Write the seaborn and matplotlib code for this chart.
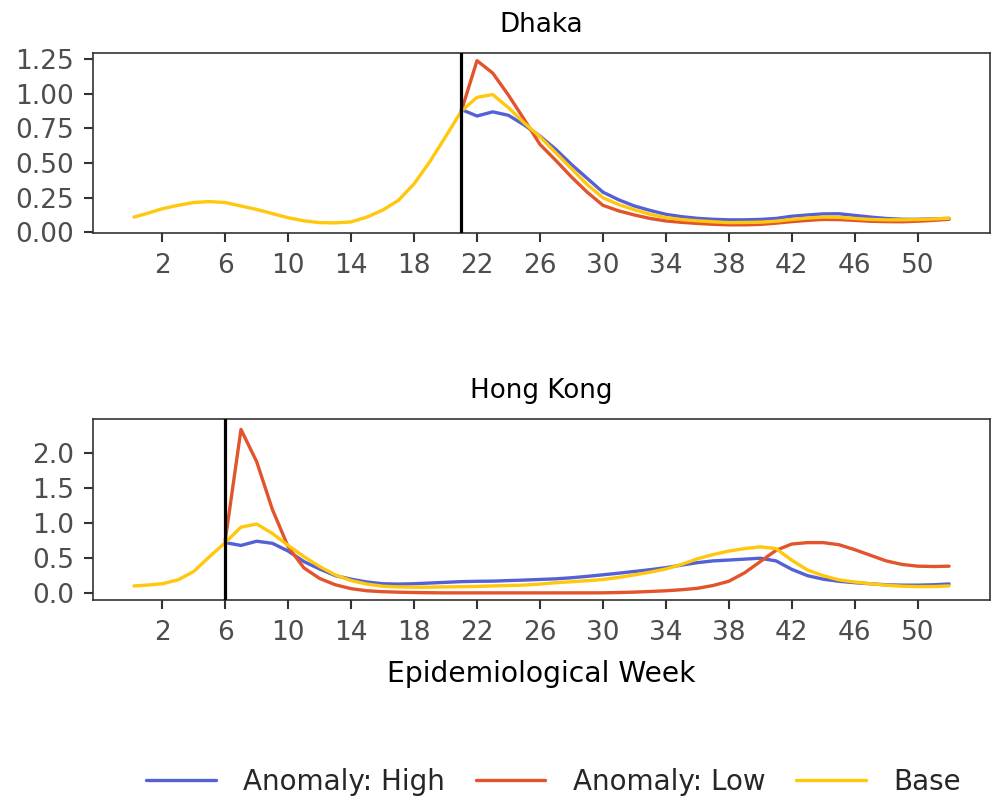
import numpy as np
import pandas as pd
import matplotlib
matplotlib.use('Agg')
import matplotlib.pyplot as plt
import seaborn as sns

# ─── DATA ─────────────────────────────────────────────────
base_weeks = [0.2] + list(range(1, 53))
dhaka_anom_weeks = list(range(21, 53))
hk_anom_weeks = list(range(6, 53))

dhaka_base = [0.11, 0.135, 0.17, 0.195, 0.215, 0.222, 0.215, 0.19, 0.165, 0.135,
              0.105, 0.083, 0.07, 0.068, 0.075, 0.11, 0.16, 0.23, 0.35, 0.51,
              0.69, 0.875, 0.975, 0.995, 0.9, 0.79, 0.69, 0.575, 0.46, 0.345,
              0.25, 0.2, 0.163, 0.13, 0.106, 0.092, 0.083, 0.076, 0.07, 0.071,
              0.073, 0.08, 0.093, 0.103, 0.11, 0.108, 0.1, 0.093, 0.09, 0.09,
              0.092, 0.096, 0.102]
dhaka_high = [0.887, 0.84, 0.87, 0.845, 0.775, 0.695, 0.6, 0.49, 0.39, 0.29,
              0.235, 0.19, 0.158, 0.13, 0.113, 0.101, 0.094, 0.09, 0.09, 0.093,
              0.1, 0.116, 0.125, 0.133, 0.134, 0.122, 0.11, 0.1, 0.094, 0.094,
              0.097, 0.1]
dhaka_low = [0.875, 1.24, 1.15, 0.99, 0.815, 0.635, 0.52, 0.4, 0.29, 0.195,
             0.155, 0.125, 0.1, 0.082, 0.072, 0.064, 0.058, 0.054, 0.054, 0.057,
             0.066, 0.077, 0.086, 0.093, 0.092, 0.086, 0.08, 0.077, 0.076, 0.08,
             0.086, 0.094]

hk_base = [0.104, 0.115, 0.135, 0.19, 0.31, 0.52, 0.72, 0.94, 0.985, 0.85,
           0.68, 0.52, 0.38, 0.26, 0.18, 0.13, 0.1, 0.09, 0.086, 0.087,
           0.09, 0.093, 0.097, 0.104, 0.11, 0.116, 0.13, 0.15, 0.163, 0.178,
           0.195, 0.225, 0.26, 0.3, 0.345, 0.41, 0.49, 0.55, 0.6, 0.635,
           0.66, 0.635, 0.47, 0.33, 0.25, 0.19, 0.16, 0.135, 0.115, 0.1,
           0.095, 0.095, 0.104]
hk_high = [0.72, 0.68, 0.74, 0.71, 0.6, 0.45, 0.345, 0.25, 0.2, 0.16,
           0.135, 0.13, 0.135, 0.145, 0.155, 0.165, 0.17, 0.172, 0.18, 0.187,
           0.196, 0.205, 0.22, 0.24, 0.262, 0.285, 0.31, 0.335, 0.364, 0.4,
           0.435, 0.46, 0.472, 0.485, 0.498, 0.46, 0.34, 0.25, 0.2, 0.17,
           0.15, 0.135, 0.12, 0.115, 0.115, 0.12, 0.132]
hk_low = [0.75, 2.33, 1.87, 1.19, 0.66, 0.36, 0.21, 0.12, 0.065, 0.035,
          0.022, 0.015, 0.01, 0.007, 0.005, 0.005, 0.005, 0.005, 0.005, 0.005,
          0.005, 0.005, 0.005, 0.005, 0.006, 0.01, 0.016, 0.025, 0.035, 0.05,
          0.07, 0.11, 0.17, 0.29, 0.45, 0.61, 0.7, 0.72, 0.72, 0.69,
          0.62, 0.54, 0.46, 0.41, 0.385, 0.38, 0.385]

cities = ['Dhaka', 'Hong Kong']
intro_week = {'Dhaka': 21, 'Hong Kong': 6}
series_order = ['Anomaly: High', 'Anomaly: Low', 'Base']
palette = {'Anomaly: High': '#5461D6', 'Anomaly: Low': '#E2542C', 'Base': '#FFC80C'}
x_ticks = list(range(2, 51, 4))


def long_frame(city, weeks, values, series):
    return pd.DataFrame({'city': city, 'week': weeks, 'value': values, 'series': series})


df = pd.concat([
    long_frame('Dhaka', dhaka_anom_weeks, dhaka_high, 'Anomaly: High'),
    long_frame('Dhaka', dhaka_anom_weeks, dhaka_low, 'Anomaly: Low'),
    long_frame('Dhaka', base_weeks, dhaka_base, 'Base'),
    long_frame('Hong Kong', hk_anom_weeks, hk_high, 'Anomaly: High'),
    long_frame('Hong Kong', hk_anom_weeks, hk_low, 'Anomaly: Low'),
    long_frame('Hong Kong', base_weeks, hk_base, 'Base'),
], ignore_index=True)

# ─── STYLE ────────────────────────────────────────────────
sns.set_theme(style='ticks')
plt.rcParams['font.family'] = ['DejaVu Sans']

fig = plt.figure(figsize=(9.93, 7.96), dpi=100)
ax1 = fig.add_axes([0.0937, 0.7073, 0.9033, 0.2261])
ax2 = fig.add_axes([0.0937, 0.2459, 0.9033, 0.2274])

ylims = {'Dhaka': (-0.005, 1.295), 'Hong Kong': (-0.1, 2.475)}
yticks = {'Dhaka': [0, 0.25, 0.5, 0.75, 1.0, 1.25], 'Hong Kong': [0, 0.5, 1.0, 1.5, 2.0]}
yfmt = {'Dhaka': '{:.2f}', 'Hong Kong': '{:.1f}'}

for ax, city in zip([ax1, ax2], cities):
    sub = df[df['city'] == city]
    sns.lineplot(data=sub, x='week', y='value', hue='series', hue_order=series_order,
                 palette=palette, linewidth=2.4, ax=ax, legend=(city == 'Hong Kong'),
                 sort=True, estimator=None)
    ax.axvline(intro_week[city], color='black', linewidth=2.3, zorder=5)
    ax.set_xlim(-2.4, 54.6)
    ax.set_ylim(*ylims[city])
    ax.set_xticks(x_ticks)
    ax.set_yticks(yticks[city])
    ax.set_yticklabels([yfmt[city].format(v) for v in yticks[city]])
    ax.set_title(city, fontsize=18.8, pad=15, color='black')
    ax.set_ylabel('')
    ax.set_xlabel('')
    ax.tick_params(direction='out', length=6.5, width=1.5, color='#333333',
                   labelcolor='#4d4d4d', labelsize=19)
    ax.tick_params(axis='x', pad=8)
    ax.tick_params(axis='y', pad=7)
    for sp in ax.spines.values():
        sp.set_visible(True)
        sp.set_color('#333333')
        sp.set_linewidth(1.2)

ax2.set_xlabel('Epidemiological Week', fontsize=20.3, color='black', labelpad=10)

handles, labels = ax2.get_legend_handles_labels()
ax2.get_legend().remove()
for h in handles:
    h.set_linewidth(2.4)
fig.legend(handles, labels, loc='center', bbox_to_anchor=(0.5575, 0.018), ncol=3,
           frameon=False, fontsize=20, handlelength=2.5, handletextpad=1.0,
           columnspacing=1.1)

plt.savefig('out.png', dpi=100)
plt.close()
